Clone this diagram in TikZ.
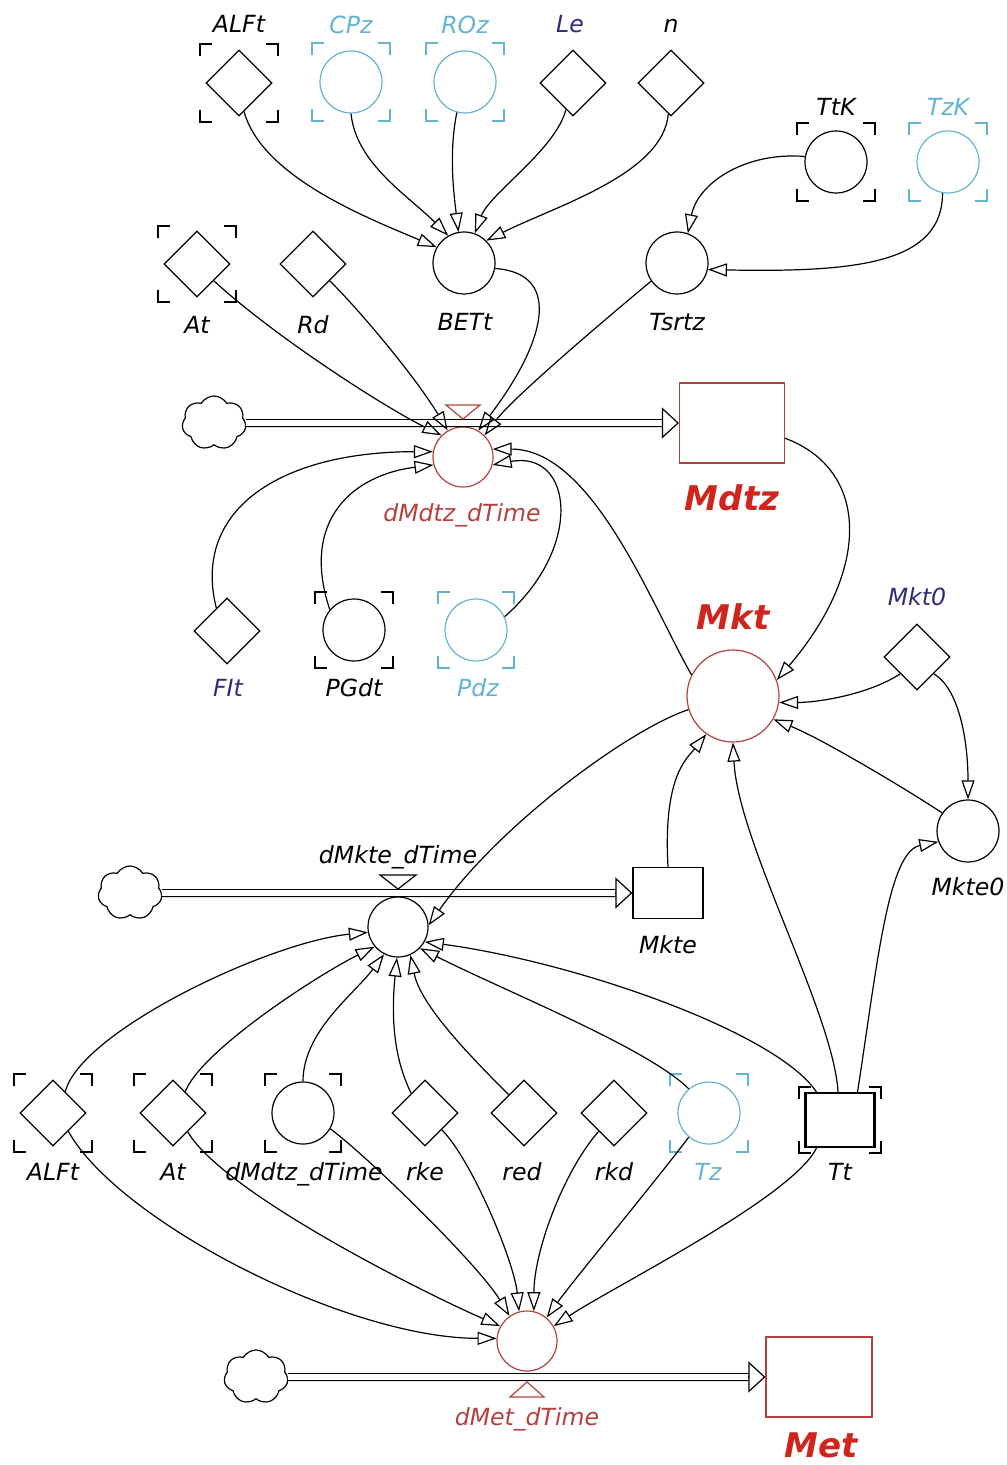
\documentclass[tikz,border=0pt]{standalone}
\usepackage{fontspec}
\setmainfont{DejaVu Sans}[ItalicFont={DejaVu Sans Oblique},BoldFont={DejaVu Sans Bold},BoldItalicFont={DejaVu Sans Bold Oblique}]
\usetikzlibrary{arrows.meta, positioning, shapes.geometric, shapes.symbols}
\definecolor{Aqua}{HTML}{63B3D3}
\definecolor{Brick}{HTML}{B5413F}
\definecolor{Crimson}{HTML}{D0241C}
\definecolor{Navy}{HTML}{2E2B7A}
\tikzset{
  aux/.style={circle, draw, line width=0.6pt, inner sep=0pt, minimum size=31pt},
  const/.style={diamond, draw, line width=0.6pt, inner sep=0pt, aspect=1, minimum size=33pt},
  stock/.style={rectangle, draw, line width=0.6pt, inner sep=0pt},
  rate/.style={circle, draw=Brick, line width=0.6pt, inner sep=0pt, minimum size=30pt},
  source/.style={cloud, cloud puffs=7, cloud puff arc=120, aspect=1.2, draw, line width=0.6pt,
    inner sep=0pt, minimum width=32pt, minimum height=27pt},
  lbl/.style={font=\fontsize{11.8}{14}\selectfont\itshape, inner sep=0pt, text height=8.5pt, text depth=0pt},
  big/.style={font=\fontsize{17}{20}\selectfont\bfseries\itshape, text=Crimson, inner sep=0pt,
    text height=12.4pt, text depth=0pt},
  link/.style={-{Triangle[open, length=9.5pt, width=6.5pt]}, line width=0.6pt},
  pipe/.style={double, double distance=2.8pt, line width=0.6pt},
  pipetip/.style={-{Triangle[open, length=8.5pt, width=15.5pt]}, line width=0.6pt},
  valvetri/.style={draw=Brick, line width=0.6pt},
}
% corner marks round a shadow variable: [colour]{node}{half width}{half height}
\newcommand{\ghostmark}[4][black]{%
  \foreach \cx/\cy/\hx/\vy in {1/1/-12/-12, 1/-1/-12/12, -1/1/12/-12, -1/-1/12/12}
    \draw[#1, line width=0.9pt] ([shift={(\cx*#3+\hx,\cy*#4)}]#2.center)
      -- ([shift={(\cx*#3,\cy*#4)}]#2.center) -- ([shift={(\cx*#3,\cy*#4+\vy)}]#2.center);
}

\begin{document}
\begin{tikzpicture}[x=0.5pt, y=-0.5pt]
\useasboundingbox (0,0) rectangle (1006,1465);

% top inputs
\node[const] (ALFt1) at (239,83) {};
\node[aux, draw=Aqua] (CPz) at (351,82) {};
\node[aux, draw=Aqua] (ROz) at (465,82) {};
\node[const] (Le) at (573,83) {};
\node[const] (n) at (671,83) {};
\node[aux] (TtK) at (836,162) {};
\node[aux, draw=Aqua] (TzK) at (948,162) {};
\node[const] (At1) at (197,264) {};
\node[const] (Rd) at (313,264) {};
\node[aux] (BETt) at (464,263) {};
\node[aux] (Tsrtz) at (677,263) {};

\node[lbl] (ALFt1-l) at (239,24) {ALFt};
\node[lbl, text=Aqua] (CPz-l) at (351,25) {CPz};
\node[lbl, text=Aqua] (ROz-l) at (465,25) {ROz};
\node[lbl, text=Navy] (Le-l) at (570,24) {Le};
\node[lbl] (n-l) at (671,24) {n};
\node[lbl] (TtK-l) at (836,107) {TtK};
\node[lbl, text=Aqua] (TzK-l) at (948,107) {TzK};
\node[lbl] (At1-l) at (197,325) {At};
\node[lbl] (Rd-l) at (313,325) {Rd};
\node[lbl] (BETt-l) at (465,322) {BETt};
\node[lbl] (Tsrtz-l) at (677,322) {Tsrtz};

% flow into Mdtz
\node[source] (cloud1) at (214,423) {};
\node[rate] (dMdtz) at (463,457) {};
\node[stock, draw=Brick, minimum width=52.5pt, minimum height=40pt] (Mdtz) at (732,423) {};
\node[lbl, text=Brick] (dMdtz-l) at (462,513) {dMdtz\_dTime};
\node[big] (Mdtz-l) at (732,498) {Mdtz};

\node[const] (FIt) at (227,631) {};
\node[aux] (PGdt) at (354,630) {};
\node[aux, draw=Aqua] (Pdz) at (476,630) {};
\node[lbl, text=Navy] (FIt-l) at (228,688) {FIt};
\node[lbl] (PGdt-l) at (354,688) {PGdt};
\node[lbl, text=Aqua] (Pdz-l) at (478,688) {Pdz};

\node[aux, draw=Brick, minimum size=46pt] (Mkt) at (733,696) {};
\node[const] (Mkt0) at (917,657) {};
\node[aux] (Mkte0) at (968,831) {};
\node[big] (Mkt-l) at (733,617) {Mkt};
\node[lbl, text=Navy] (Mkt0-l) at (917,597) {Mkt0};
\node[lbl] (Mkte0-l) at (968,887) {Mkte0};

% flow into Mkte
\node[source] (cloud2) at (130,893) {};
\node[rate, draw=black] (dMkte) at (398,927) {};
\node[stock, minimum width=35pt, minimum height=25.5pt] (Mkte) at (668,893) {};
\node[lbl] (dMkte-l) at (398,855) {dMkte\_dTime};
\node[lbl] (Mkte-l) at (668,945) {Mkte};

% bottom row
\node[const] (ALFt2) at (53,1113) {};
\node[const] (At2) at (173,1113) {};
\node[aux] (dMdtz2) at (303,1113) {};
\node[const] (rke) at (425,1113) {};
\node[const] (red) at (524,1113) {};
\node[const] (rkd) at (614,1113) {};
\node[aux, draw=Aqua] (Tz) at (709,1113) {};
\node[stock, line width=1.1pt, minimum width=34.5pt, minimum height=27pt] (Tt) at (840,1120) {};

\node[lbl] (ALFt2-l) at (53,1172) {ALFt};
\node[lbl] (At2-l) at (173,1172) {At};
\node[lbl] (dMdtz2-l) at (304,1172) {dMdtz\_dTime};
\node[lbl] (rke-l) at (425,1172) {rke};
\node[lbl] (red-l) at (522,1172) {red};
\node[lbl] (rkd-l) at (614,1172) {rkd};
\node[lbl, text=Aqua] (Tz-l) at (708,1172) {Tz};
\node[lbl] (Tt-l) at (840,1172) {Tt};

% flow into Met
\node[source] (cloud3) at (256,1377) {};
\node[rate] (dMet) at (527,1341) {};
\node[stock, draw=Brick, minimum width=53pt, minimum height=40pt] (Met) at (819,1377) {};
\node[lbl, text=Brick] (dMet-l) at (527,1417) {dMet\_dTime};
\node[big] (Met-l) at (821,1445) {Met};

% shadow marks
\ghostmark{ALFt1}{39}{39}
\ghostmark[Aqua]{CPz}{39}{39}
\ghostmark[Aqua]{ROz}{39}{39}
\ghostmark{TtK}{39}{39}
\ghostmark[Aqua]{TzK}{39}{39}
\ghostmark{At1}{39}{38}
\ghostmark{PGdt}{39}{38}
\ghostmark[Aqua]{Pdz}{38}{38}
\ghostmark{ALFt2}{39}{39}
\ghostmark{At2}{39}{39}
\ghostmark{dMdtz2}{38}{39}
\ghostmark[Aqua]{Tz}{39}{39}
\ghostmark{Tt}{41}{33}

% pipes and valves
\draw[pipe] (cloud1.east) -- ([xshift=-8.5pt]Mdtz.west);
\draw[pipetip] ([xshift=-8.5pt]Mdtz.west) -- (Mdtz.west);
\draw[valvetri] ([shift={(-17,-52)}]dMdtz.center) -- ++(34,0) -- ++(-17,14) -- cycle;

\draw[pipe] (cloud2.east) -- ([xshift=-8.5pt]Mkte.west);
\draw[pipetip] ([xshift=-8.5pt]Mkte.west) -- (Mkte.west);
\draw[line width=0.6pt] ([shift={(-18,-52)}]dMkte.center) -- ++(36,0) -- ++(-18,14) -- cycle;

\draw[pipe] (cloud3.east) -- ([xshift=-8.5pt]Met.west);
\draw[pipetip] ([xshift=-8.5pt]Met.west) -- (Met.west);
\draw[valvetri] ([shift={(-17,56)}]dMet.center) -- ++(34,0) -- ++(-17,-15) -- cycle;

% links into BETt and Tsrtz
\draw[link] (ALFt1.-80) .. controls +(18,65) and +(-71,-30) .. (BETt.150);
\draw[link] (CPz.-90) .. controls +(5,50) and +(-40,-40) .. (BETt.120);
\draw[link] (ROz.-105) .. controls +(-8,40) and +(-5,-40) .. (BETt.100);
\draw[link] (Le.-105) .. controls +(-10,40) and +(15,-40) .. (BETt.70);
\draw[link] (n.-95) .. controls +(-5,60) and +(70,-35) .. (BETt.45);
\draw[link] (TtK.170) .. controls +(-60,-5) and +(10,-50) .. (Tsrtz.70);
\draw[link] (TzK.-100) .. controls +(0,70) and +(150,3) .. (Tsrtz.-12);

% links into dMdtz_dTime
\draw[link] (At1.-45) .. controls +(60,55) and +(-60,-30) .. (dMdtz.135);
\draw[link] (Rd.-45) .. controls +(35,35) and +(-30,-50) .. (dMdtz.120);
\draw[link] (BETt.-10) .. controls +(70,5) and +(65,-85) .. (dMdtz.60);
\draw[link] (Tsrtz.-145) .. controls +(-30,25) and +(30,-40) .. (dMdtz.45);
\draw[link] (Mkt.153) .. controls +(-40,-70) and +(100,0) .. (dMdtz.15);
\draw[link] (Pdz.25) .. controls +(80,-70) and +(80,-15) .. (dMdtz.-15);
\draw[link] (FIt.115) .. controls +(-25,-100) and +(-150,0) .. (dMdtz.170);
\draw[link] (PGdt.140) .. controls +(-30,-90) and +(-80,10) .. (dMdtz.-165);

% links round Mkt
\draw[link] (Mdtz.-16) .. controls +(85,32) and +(94,-110) .. (Mkt.20);
\draw[link] (Mkt0.-135) .. controls +(-30,20) and +(40,0) .. (Mkt.-8);
\draw[link] (Mkt0.-45) .. controls +(25,15) and +(0,-60) .. (Mkte0.90);
\draw[link] (Mkte0.145) .. controls +(-30,-20) and +(50,20) .. (Mkt.-30);
\draw[link] (Mkte.north) .. controls +(-5,-90) and +(-20,25) .. (Mkt.-125);
\draw[link] (Tt.94) .. controls +(-5,-80) and +(5,100) .. (Mkt.-90);
\draw[link] (Tt.58) .. controls +(20,-130) and +(-50,10) .. (Mkte0.-160);

% links into dMkte_dTime
\draw[link] (Mkt.197) .. controls +(-60,20) and +(70,-100) .. (dMkte.3);
\draw[link] (Tt.130) .. controls +(-40,-60) and +(150,20) .. (dMkte.-29);
\draw[link] (Tz.130) .. controls +(-40,-40) and +(90,45) .. (dMkte.-44);
\draw[link] (ALFt2.60) .. controls +(15,-60) and +(-100,10) .. (dMkte.190);
\draw[link] (At2.60) .. controls +(15,-40) and +(-60,30) .. (dMkte.220);
\draw[link] (dMdtz2.90) .. controls +(0,-50) and +(-30,40) .. (dMkte.243);
\draw[link] (rke.125) .. controls +(-20,-40) and +(-5,50) .. (dMkte.268);
\draw[link] (red.130) .. controls +(-40,-40) and +(10,50) .. (dMkte.294);

% links into dMet_dTime
\draw[link] (ALFt2.-50) .. controls +(50,90) and +(-150,0) .. (dMet.175);
\draw[link] (At2.-52) .. controls +(35,60) and +(-80,-35) .. (dMet.151);
\draw[link] (dMdtz2.-30) .. controls +(40,30) and +(-30,-50) .. (dMet.125);
\draw[link] (rke.-45) .. controls +(30,30) and +(-5,-50) .. (dMet.105);
\draw[link] (rkd.-130) .. controls +(-35,40) and +(0,-60) .. (dMet.77);
\draw[link] (Tz.-130) .. controls +(-30,40) and +(25,-35) .. (dMet.50);
\draw[link] (Tt.-130) .. controls +(-25,50) and +(60,-40) .. (dMet.29);

\end{tikzpicture}
\end{document}
